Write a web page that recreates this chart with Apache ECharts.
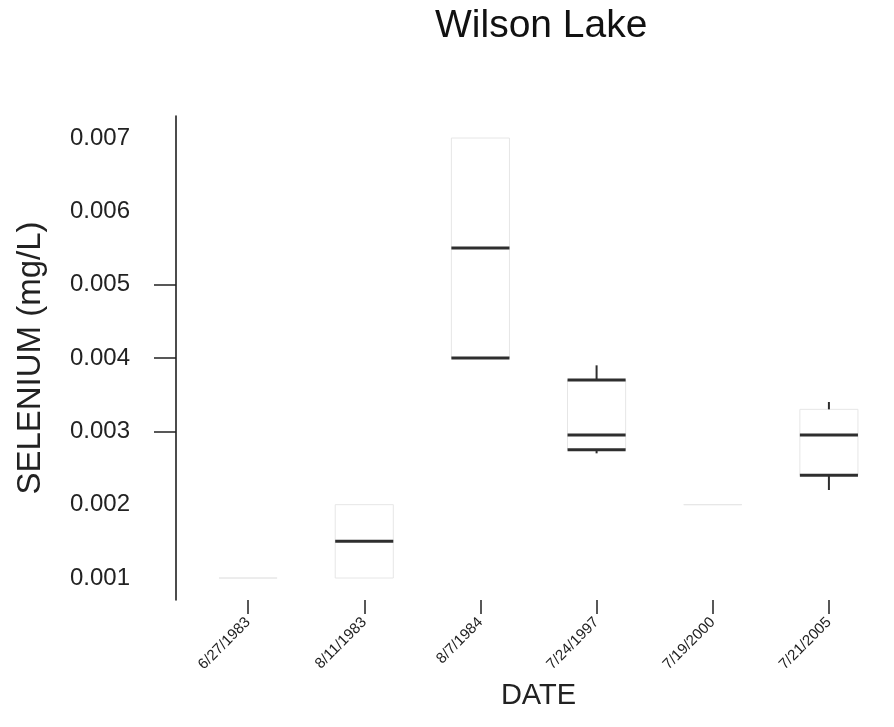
<!DOCTYPE html>
<html>
<head>
<meta charset="utf-8">
<script src="https://cdn.jsdelivr.net/npm/echarts@6/dist/echarts.min.js"></script>
<style>html,body{margin:0;padding:0;background:#fff}#c{width:894px;height:727px}</style>
</head>
<body>
<div id="c"></div>
<script>
// Data
const categories = ['6/27/1983', '8/11/1983', '8/7/1984', '7/24/1997', '7/19/2000', '7/21/2005'];
const mins    = [0.001, 0.001, 0.004,  0.0027,  0.002, 0.0022];
const q1s     = [0.001, 0.001, 0.004,  0.00275, 0.002, 0.0024];
const medians = [0.001, 0.0015, 0.0055, 0.00295, 0.002, 0.00295];
const q3s     = [0.001, 0.002, 0.007,  0.0037,  0.002, 0.0033];
const maxs    = [0.001, 0.002, 0.007,  0.0039,  0.002, 0.0034];
const yTickLabels = [0.001, 0.002, 0.003, 0.004, 0.005, 0.006, 0.007];
const yTickMarks = [0.003, 0.004, 0.005];

// Style (kept separate from data): which quartile edges render dark
const darkQ1 = [false, false, true, true, false, true];
const darkQ3 = [false, false, false, true, false, false];

const seriesData = categories.map((c, i) => [i, mins[i], q1s[i], medians[i], q3s[i], maxs[i]]);

const FONT = '"Liberation Sans", Arial, sans-serif';
const DARK = '#2e2e2e';
const FAINT = '#e6e6e6';

const chart = echarts.init(document.getElementById('c'), null, {renderer: 'canvas'});
chart.setOption({
  backgroundColor: '#fff',
  animation: false,
  title: {
    text: 'Wilson Lake', left: 430, top: 2,
    textStyle: {fontFamily: FONT, fontSize: 39, fontWeight: 'normal', color: '#111'}
  },
  grid: {left: 190, right: 7, top: 116, bottom: 127},
  xAxis: {
    type: 'category', data: categories, boundaryGap: true,
    axisLine: {show: false},
    axisTick: {show: true, alignWithLabel: true, length: 14, lineStyle: {color: '#222', width: 1.5}},
    axisLabel: {rotate: 45, fontFamily: FONT, fontSize: 15, color: '#222', margin: 20, interval: 0},
    splitLine: {show: false},
    name: 'DATE', nameLocation: 'middle', nameGap: 81,
    nameTextStyle: {fontFamily: FONT, fontSize: 29, color: '#222'}
  },
  yAxis: {
    type: 'value', min: 0.0007, max: 0.0073, offset: 14,
    axisLine: {show: true, lineStyle: {color: '#111', width: 1.5}},
    axisTick: {show: true, customValues: yTickMarks, length: 22, lineStyle: {color: '#222', width: 1.5}},
    axisLabel: {customValues: yTickLabels, formatter: v => v.toFixed(3), fontFamily: FONT, fontSize: 24, color: '#222', margin: 46},
    splitLine: {show: false},
    name: 'SELENIUM (mg/L)', nameLocation: 'middle', nameGap: 129,
    nameTextStyle: {fontFamily: FONT, fontSize: 33, color: '#222'}
  },
  series: [{
    type: 'custom',
    data: seriesData,
    encode: {x: 0, y: [1, 2, 3, 4, 5]},
    renderItem: function (params, api) {
      const idx = api.value(0);
      const vMin = api.value(1), vQ1 = api.value(2), vMed = api.value(3), vQ3 = api.value(4), vMax = api.value(5);
      const cx = api.coord([idx, vMed])[0];
      const half = api.size([1, 0])[0] * 0.25;
      const yMin = api.coord([idx, vMin])[1];
      const yQ1 = api.coord([idx, vQ1])[1];
      const yMed = api.coord([idx, vMed])[1];
      const yQ3 = api.coord([idx, vQ3])[1];
      const yMax = api.coord([idx, vMax])[1];
      const children = [];
      children.push({
        type: 'rect',
        shape: {x: cx - half, y: yQ3, width: half * 2, height: Math.max(yQ1 - yQ3, 0)},
        style: {fill: null, stroke: FAINT, lineWidth: 1}
      });
      if (yMax < yQ3 - 0.5) {
        children.push({type: 'line', shape: {x1: cx, y1: yQ3, x2: cx, y2: yMax}, style: {stroke: DARK, lineWidth: 2}});
      }
      if (yMin > yQ1 + 0.5) {
        children.push({type: 'line', shape: {x1: cx, y1: yQ1, x2: cx, y2: yMin}, style: {stroke: DARK, lineWidth: 2}});
      }
      if (darkQ1[idx]) {
        children.push({type: 'line', shape: {x1: cx - half, y1: yQ1, x2: cx + half, y2: yQ1}, style: {stroke: DARK, lineWidth: 3}});
      }
      if (darkQ3[idx]) {
        children.push({type: 'line', shape: {x1: cx - half, y1: yQ3, x2: cx + half, y2: yQ3}, style: {stroke: DARK, lineWidth: 3}});
      }
      if (vMed > vQ1 && vMed < vQ3) {
        children.push({type: 'line', shape: {x1: cx - half, y1: yMed, x2: cx + half, y2: yMed}, style: {stroke: DARK, lineWidth: 3}});
      }
      return {type: 'group', children: children};
    }
  }]
});
</script>
</body>
</html>
